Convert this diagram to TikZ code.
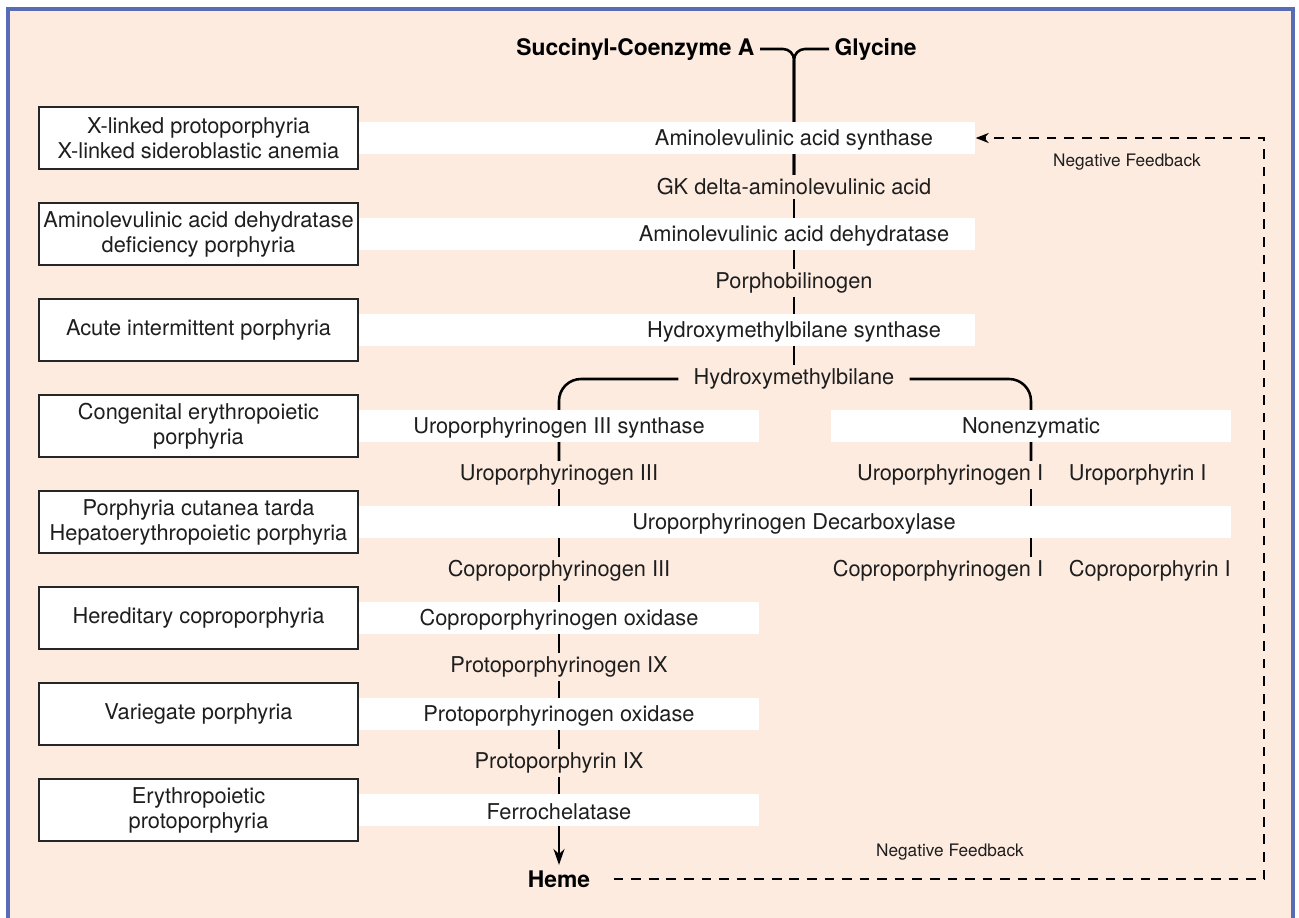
\documentclass[tikz,border=0pt]{standalone}
\usepackage{fontspec}
\setmainfont{TeX Gyre Heros}
\usetikzlibrary{positioning}
\usetikzlibrary{arrows.meta,calc}
\definecolor{peach}{RGB}{253,235,224}
\definecolor{frameblue}{RGB}{88,108,182}
\definecolor{ink}{RGB}{30,30,30}
\newcommand{\diagfont}{\fontsize{12.4}{14.2}\selectfont}
\newcommand{\notefont}{\fontsize{9.8}{11}\selectfont}
\pgfdeclarelayer{bg}
\pgfdeclarelayer{lines}
\pgfsetlayers{bg,lines,main}
\tikzstyle{disease}=[draw=black!85,fill=white,line width=0.8pt,minimum width=6.38cm,minimum height=1.24cm,align=center,inner sep=2pt,text=ink,font=\diagfont]
\tikzstyle{band}=[fill=white,minimum height=0.64cm,inner sep=0pt,anchor=west]
\tikzstyle{chem}=[text=ink,inner sep=2pt,font=\diagfont]
\tikzstyle{enzyme}=[text=ink,inner sep=0pt,font=\diagfont]
\tikzstyle{substrate}=[text=black,inner sep=3pt,font=\fontsize{13}{15}\selectfont\bfseries]
\tikzstyle{pathway}=[draw,line width=1.45pt]
\tikzstyle{feedback}=[draw,line width=1.45pt,dash pattern=on 5.5pt off 4.5pt]
\tikzstyle{note}=[text=ink,font=\notefont]

\begin{document}
\begin{tikzpicture}[x=0.02cm, y=-0.02cm]

  \useasboundingbox (0,0) rectangle (1299,918);
  \begin{pgfonlayer}{bg}
    \fill[white] (0,0) rectangle (1299,918);
    \draw[frameblue, line width=1.8pt, fill=peach] (8,9) rectangle (1293,960);
  \end{pgfonlayer}

  \def\mx{794};  % main chain
  \def\lx{559};  % left branch
  \def\rx{1031}; % right branch

  % white enzyme bands
  \foreach \y/\xa/\xb/\name in {138/358/975/b1, 234/358/975/b2, 330/358/975/b3, 426/358/759/b4,
        426/831/1231/b5, 522/358/1231/b6, 618/358/759/b7, 714/358/759/b8, 810/358/759/b9}
  {
     \pgfmathsetmacro{\w}{(\xb-\xa)*0.02}
     \node[band, minimum width=\w cm] (\name) at (\xa, \y) {};
  }

  % diseases
  \foreach \y/\name/\label in {138/d1/{X-linked protoporphyria\\X-linked sideroblastic anemia},
        234/d2/{Aminolevulinic acid dehydratase\\deficiency porphyria},
        330/d3/{Acute intermittent porphyria},
        426/d4/{Congenital erythropoietic\\porphyria},
        522/d5/{Porphyria cutanea tarda\\Hepatoerythropoietic porphyria},
        618/d6/{Hereditary coproporphyria},
        714/d7/{Variegate porphyria},
        810/d8/{Erythropoietic\\protoporphyria}}
     \node[disease] (\name) at (198.5, \y) {\label};

  % enzymes
  \foreach \y/\x/\name/\label in {138/\mx/alas/Aminolevulinic acid synthase,
        234/\mx/alad/Aminolevulinic acid dehydratase,
        330/\mx/hmbs/Hydroxymethylbilane synthase,
        426/\lx/uros/Uroporphyrinogen III synthase,
        426/\rx/nonenz/Nonenzymatic,
        522/\mx/urod/Uroporphyrinogen Decarboxylase,
        618/\lx/cpox/Coproporphyrinogen oxidase,
        714/\lx/ppox/Protoporphyrinogen oxidase,
        810/\lx/fech/Ferrochelatase}
     \node[enzyme] (\name) at (\x, \y+2) {\label};

  % intermediates
  \foreach \y/\x/\name/\label in {186/\mx/ala/GK delta-aminolevulinic acid,
        282/\mx/pbg/Porphobilinogen,
        474/\lx/uro3/Uroporphyrinogen III,
        570/\lx/cop3/Coproporphyrinogen III,
        666/\lx/ppg/Protoporphyrinogen IX,
        762/\lx/ppix/Protoporphyrin IX}
     \node[chem] (\name) at (\x, \y+1) {\label};
  \node[chem, inner xsep=0.3cm] (hmb) at (\mx, 379) {Hydroxymethylbilane};

  \node[chem, anchor=east] (uro1) at (1047, 475) {Uroporphyrinogen I};
  \node[chem, anchor=west] (urop1) at (1065, 475) {Uroporphyrin I};
  \node[chem, anchor=east] (cop1) at (1047, 571) {Coproporphyrinogen I};
  \node[chem, anchor=west] (copp1) at (1065, 571) {Coproporphyrin I};

  \node[substrate, anchor=east] (succ) at (760, 49) {Succinyl-Coenzyme A};
  \node[substrate, anchor=west] (gly) at (829, 49) {Glycine};
  \node[substrate] (heme) at (\lx, 879) {Heme};

  \node[note] (fbtop) at (1127, 162) {Negative Feedback};
  \node[note] (fbbot) at (950, 852) {Negative Feedback};
  \coordinate (fbcorner) at (1264, 874);

  \begin{pgfonlayer}{lines}
    \draw[pathway, rounded corners=0.22cm] (succ.east) -- (succ.east -| alas) -- (ala);
    \draw[pathway, rounded corners=0.22cm] (gly.west) -- (gly.west -| alas) -- (ala);
    \foreach \source/\dest in {ala/pbg, pbg/hmb, uro3/cop3, cop3/ppg, ppg/ppix}
       \draw[pathway] (\source) -- (\dest);
    \draw[pathway, -{Stealth[length=0.32cm, width=0.22cm]}] (ppix) -- (heme);
    \draw[pathway, rounded corners=0.44cm] (hmb.west) -- (hmb.west -| uros) -- (uro3);
    \draw[pathway, rounded corners=0.44cm] (hmb.east) -- (hmb.east -| nonenz) -- (uro1.north -| nonenz);
    \draw[pathway] (uro1.south -| nonenz) -- (cop1.north -| nonenz);
  \end{pgfonlayer}

  \draw[feedback, shorten <=0.36cm, -{Stealth[length=0.26cm, width=0.2cm]}]
     (heme.east) -- (fbcorner |- heme.east) -- (fbcorner |- b1.east) -- (b1.east);

\end{tikzpicture}
\end{document}
